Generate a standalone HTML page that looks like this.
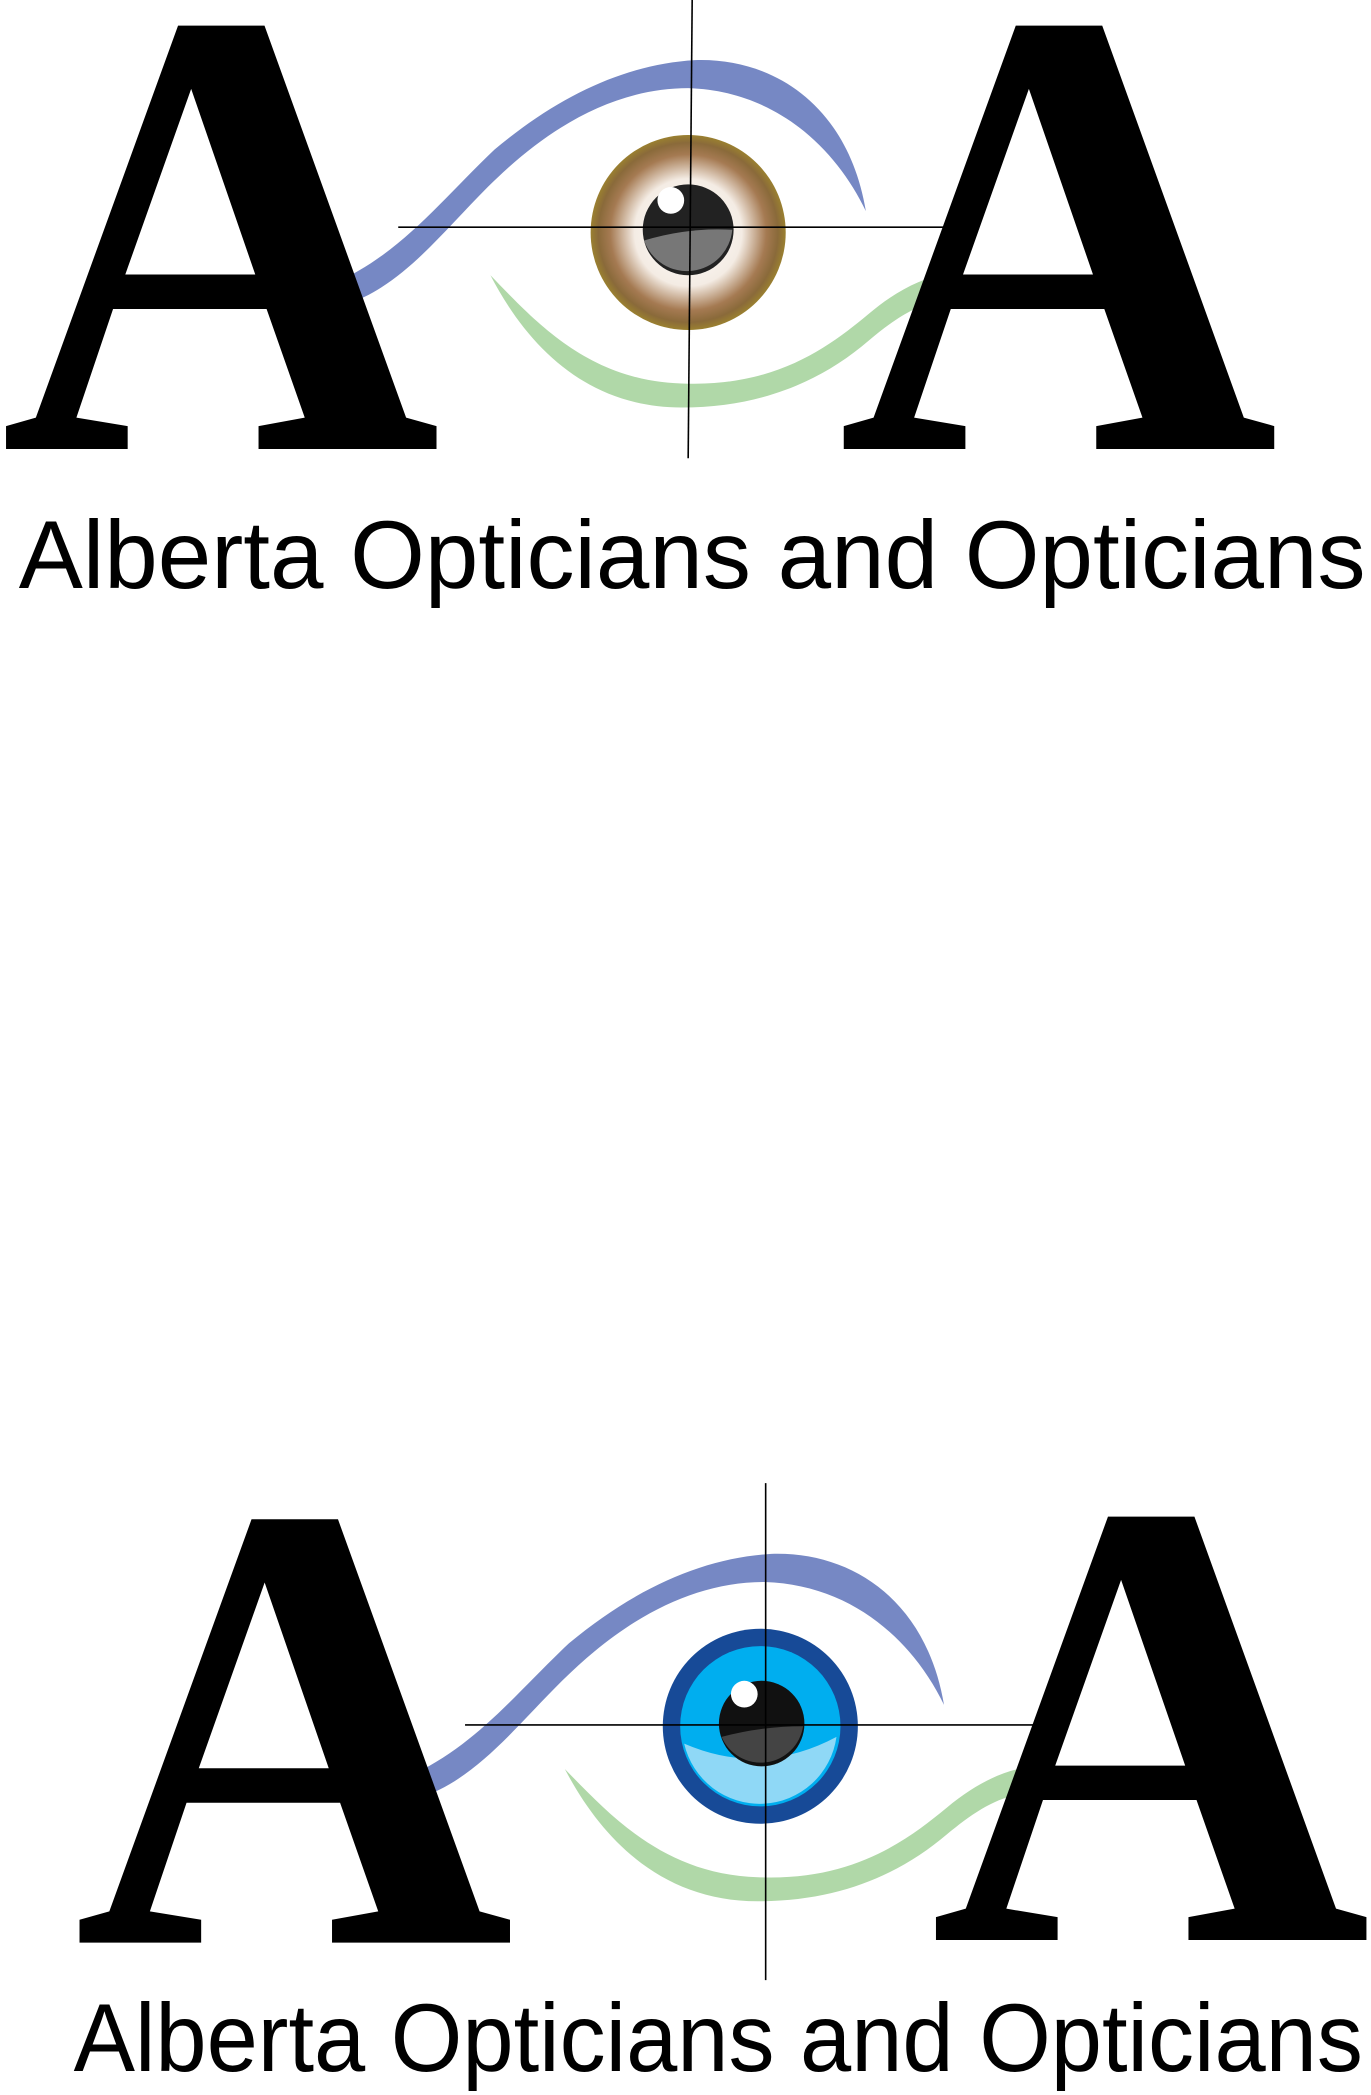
<!DOCTYPE html>
<html><head><meta charset="utf-8"><style>html,body{margin:0;padding:0;background:#fff}svg{display:block}</style></head>
<body>
<svg width="1371" height="2095" viewBox="0 0 1026 1568" xmlns="http://www.w3.org/2000/svg">
<defs>
<radialGradient id="br" cx="50%" cy="50%" r="50%">
<stop offset="0" stop-color="#ffffff"/><stop offset="0.55" stop-color="#f4ece4"/><stop offset="0.8" stop-color="#a57a52"/><stop offset="0.92" stop-color="#8a6a3a"/><stop offset="1" stop-color="#9a8030"/></radialGradient>
<g id="sw">
<path d="M250,212 C300,190 330,150 370,112 C420,70 470,48 520,45 C580,43 635,80 648,158 C625,110 580,68 515,66 C460,66 410,95 365,140 C330,175 300,215 258,228 Z" fill="#7688c4"/>
<path d="M367,206 C400,240 440,285 510,287 C580,290 620,260 650,235 C670,218 690,208 708,205 L704,225 C685,228 668,240 650,255 C615,285 570,305 510,305 C440,305 395,260 367,206 Z" fill="#b0d8a8"/>
</g>
</defs>
<use href="#sw"/>
<g font-family="Liberation Serif, serif" font-weight="bold" font-size="480" fill="#000">
<text x="0" y="336" textLength="330" lengthAdjust="spacingAndGlyphs">A</text>
<text x="627" y="336" textLength="330" lengthAdjust="spacingAndGlyphs">A</text>
</g>
<circle cx="515" cy="174" r="73" fill="url(#br)"/>
<circle cx="515" cy="172" r="34" fill="#222"/>
<path d="M482,180 Q515,170 548,172 A34,34 0 0 1 482,180Z" fill="#777"/>
<circle cx="502" cy="150" r="10" fill="#fff"/>
<line x1="298" y1="170" x2="706" y2="170" stroke="#000" stroke-width="1.2"/>
<line x1="518" y1="0" x2="515" y2="343" stroke="#000" stroke-width="1.2"/>
<text x="14" y="440" font-family="Liberation Sans, sans-serif" font-size="72" textLength="1008" lengthAdjust="spacingAndGlyphs">Alberta Opticians and Opticians</text>

<g transform="translate(52,1118) scale(1.01,1)"><use href="#sw"/></g>
<g font-family="Liberation Serif, serif" font-weight="bold" font-size="480" fill="#000">
<text x="55" y="1454" textLength="330" lengthAdjust="spacingAndGlyphs">A</text>
<text x="696" y="1452" textLength="330" lengthAdjust="spacingAndGlyphs">A</text>
</g>
<circle cx="569" cy="1292" r="73" fill="#174a97"/>
<circle cx="569" cy="1292" r="60" fill="#00aeef"/>
<path d="M512,1305 Q570,1330 626,1300 A58,58 0 0 1 512,1305Z" fill="#8fd8f6"/>
<circle cx="570" cy="1290" r="32" fill="#111"/>
<path d="M540,1300 Q570,1292 601,1292 A32,32 0 0 1 540,1300Z" fill="#444"/>
<circle cx="557" cy="1268" r="10" fill="#fff"/>
<line x1="348" y1="1291" x2="780" y2="1291" stroke="#000" stroke-width="1.2"/>
<line x1="573" y1="1110" x2="573" y2="1482" stroke="#000" stroke-width="1.2"/>
<text x="55" y="1550" font-family="Liberation Sans, sans-serif" font-size="72" textLength="965" lengthAdjust="spacingAndGlyphs">Alberta Opticians and Opticians</text>
</svg>
</body></html>
